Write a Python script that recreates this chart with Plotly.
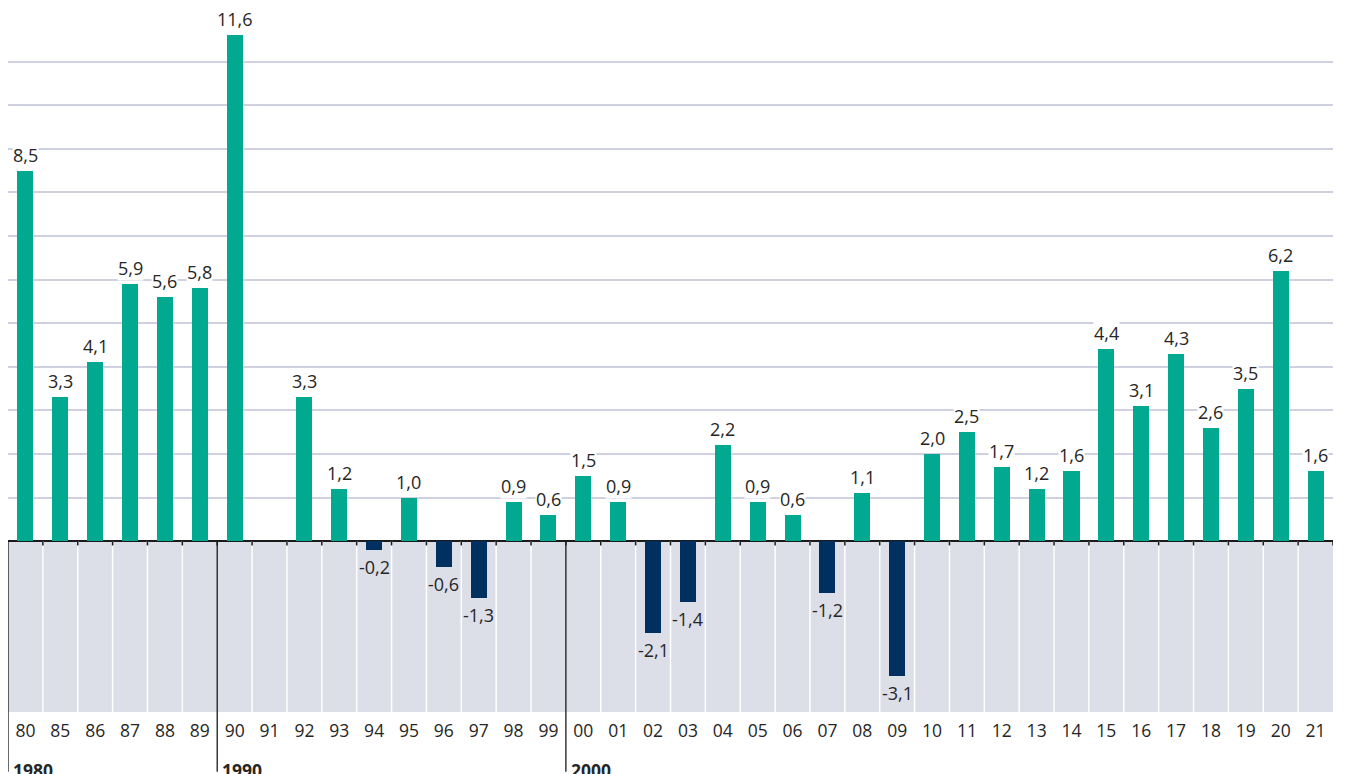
import plotly.graph_objects as go

categories = ["80", "85", "86", "87", "88", "89",
              "90", "91", "92", "93", "94", "95", "96", "97", "98", "99",
              "00", "01", "02", "03", "04", "05", "06", "07", "08", "09",
              "10", "11", "12", "13", "14", "15", "16", "17", "18", "19", "20", "21"]
values = [8.5, 3.3, 4.1, 5.9, 5.6, 5.8,
          11.6, None, 3.3, 1.2, -0.2, 1.0, -0.6, -1.3, 0.9, 0.6,
          1.5, 0.9, -2.1, -1.4, 2.2, 0.9, 0.6, -1.2, 1.1, -3.1,
          2.0, 2.5, 1.7, 1.2, 1.6, 4.4, 3.1, 4.3, 2.6, 3.5, 6.2, 1.6]
decades = ["1980", "1990", "2000"]
decade_start = ["80", "90", "00"]
grid_values = list(range(1, 13))

GREEN = "#00a990"
NAVY = "#00305f"
BAND = "#dcdee8"
GRID = "#cfd1e0"
TXT = "#262626"
FONT = "Open Sans"

idx = list(range(len(categories)))
y_min, y_max = -3.92, 12.0

colors = [NAVY if (v is not None and v < 0) else GREEN for v in values]

fig = go.Figure()
fig.add_trace(go.Bar(
    x=idx, y=values, width=0.46, marker=dict(color=colors, line=dict(width=0)),
    hoverinfo="skip", showlegend=False,
))

shapes = []
# grey band below zero
shapes.append(dict(type="rect", xref="x", yref="y", x0=-0.5, x1=len(categories) - 0.5,
                   y0=y_min, y1=0, fillcolor=BAND, line=dict(width=0), layer="below"))

decade_bounds = [categories.index(s) - 0.5 for s in decade_start]
# white separators between columns
for i in idx[:-1]:
    b = i + 0.5
    if b in decade_bounds:
        continue
    shapes.append(dict(type="line", xref="x", yref="y", x0=b, x1=b, y0=0, y1=y_min,
                       line=dict(color="white", width=1.5)))
# small black ticks below zero line at boundaries
for i in idx:
    b = i + 0.5
    shapes.append(dict(type="line", xref="x", yref="y", x0=b, x1=b, y0=0, y1=-0.1,
                       line=dict(color="#1a1a1a", width=1.5)))
# decade separators
for b in decade_bounds:
    shapes.append(dict(type="line", xref="x", yref="y", x0=b, x1=b, y0=0, y1=y_min,
                       line=dict(color="#1a1a1a", width=1.3)))
    shapes.append(dict(type="line", xref="x", yref="paper", x0=b, x1=b, y0=0, y1=-0.086,
                       line=dict(color="#1a1a1a", width=1.3)))

annotations = []
for i, v in zip(idx, values):
    if v is None:
        continue
    txt = f"{v:.1f}".replace(".", ",")
    annotations.append(dict(
        x=i, y=v, xref="x", yref="y", text=txt, showarrow=False,
        yshift=16 if v >= 0 else -17, yanchor="middle",
        font=dict(family=FONT, size=18, color=TXT),
        bgcolor="white" if v >= 0 else "rgba(0,0,0,0)", borderpad=0,
    ))
for d, b in zip(decades, decade_bounds):
    annotations.append(dict(
        x=b, y=-0.064, xref="x", yref="paper", text=f"<b>{d}</b>", showarrow=False,
        xanchor="left", yanchor="top", xshift=3,
        font=dict(family=FONT, size=17.5, color=TXT),
    ))

fig.update_layout(
    width=1346, height=774,
    margin=dict(l=0, r=21, t=10, b=70),
    paper_bgcolor="white", plot_bgcolor="white",
    shapes=shapes, annotations=annotations,
    bargap=0, showlegend=False,
    font=dict(family=FONT, size=17.5, color=TXT),
    xaxis=dict(
        range=[-0.5, len(categories) - 0.5],
        tickmode="array", tickvals=idx, ticktext=categories,
        tickfont=dict(family=FONT, size=17.5, color=TXT),
        ticks="outside", ticklen=3, tickcolor="white",
        showgrid=False, zeroline=False, showline=False, fixedrange=True,
    ),
    yaxis=dict(
        range=[y_min, y_max],
        tickmode="array", tickvals=grid_values, showticklabels=False,
        showgrid=True, gridcolor=GRID, gridwidth=1.5,
        zeroline=True, zerolinecolor="#1a1a1a", zerolinewidth=1.5,
        showline=False, fixedrange=True,
    ),
)

fig.write_html("out.html")
